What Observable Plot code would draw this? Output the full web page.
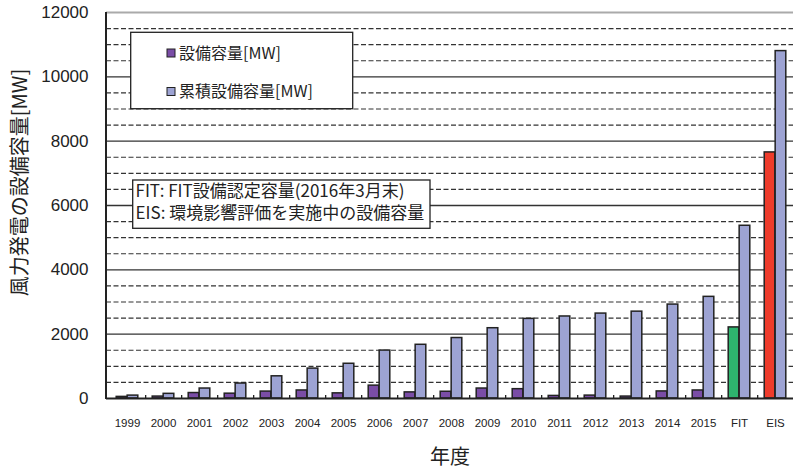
<!DOCTYPE html>
<html>
<head>
<meta charset="utf-8">
<script src="https://cdn.jsdelivr.net/npm/d3@7"></script>
<script src="https://cdn.jsdelivr.net/npm/@observablehq/plot@0.6"></script>
<style>
  html, body { margin: 0; padding: 0; background: #fff; overflow: hidden; }
  #chart svg { display: block; }
</style>
</head>
<body>
<div id="chart"></div>
<script>
// 年度ごとの風力発電設備容量 (MW)
const categories = ["1999","2000","2001","2002","2003","2004","2005","2006","2007","2008",
                    "2009","2010","2011","2012","2013","2014","2015","FIT","EIS"];
const annualCapacity = [50, 60, 170, 150, 215, 250, 160, 400, 190, 210,
                        310, 290, 80, 90, 60, 220, 250, 2210, 7650];
const cumulativeCapacity = [90, 145, 310, 465, 690, 930, 1080, 1490, 1670, 1880,
                            2185, 2475, 2550, 2640, 2700, 2920, 3160, 5370, 10800];
const seriesNames = ["設備容量[MW]", "累積設備容量[MW]"];
const notes = ["FIT: FIT設備認定容量(2016年3月末)", "EIS: 環境影響評価を実施中の設備容量"];
const yTicks = [0, 2000, 4000, 6000, 8000, 10000, 12000];
const yLabel = "風力発電の設備容量[MW]";
const xLabel = "年度";

const rows = categories.map((c, i) => ({cat: c, annual: annualCapacity[i], cumulative: cumulativeCapacity[i]}));

const PURPLE = "#7A4DA6", BLUE = "#9DA3D3", GREEN = "#2EB46E", RED = "#EE3B2B", INK = "#222";
const JP = "'Noto Sans CJK JP', 'Noto Sans', sans-serif";
const annualFill = d => d.cat === "FIT" ? GREEN : d.cat === "EIS" ? RED : PURPLE;

const majors = yTicks.filter(v => v > 0 && v < 12000);
const minors = d3.range(500, 12000, 500).filter(v => v % 2000 !== 0);

const chart = Plot.plot({
  width: 793,
  height: 470,
  marginLeft: 106,
  marginRight: 0,
  marginTop: 12,
  marginBottom: 72,
  style: {fontFamily: "'Liberation Sans', Arial, sans-serif", color: INK, background: "#fff"},
  x: {type: "band", domain: categories, range: [106, 796], padding: 0},
  y: {domain: [0, 12000]},
  marks: [
    Plot.ruleY(minors, {stroke: "#333", strokeWidth: 1.1, strokeDasharray: "5,2.5"}),
    Plot.ruleY(majors, {stroke: "#333", strokeWidth: 1.3}),
    Plot.ruleY([12000], {stroke: "#aaa", strokeWidth: 2}),
    Plot.barY(rows, {x: "cat", y: "annual", fill: annualFill, stroke: INK, strokeWidth: 1.5,
                     insetLeft: 7.2, insetRight: 18.16}),
    Plot.barY(rows, {x: "cat", y: "cumulative", fill: BLUE, stroke: INK, strokeWidth: 1.5,
                     insetLeft: 18.16, insetRight: 7.2}),
    Plot.ruleX(categories.slice(0, -1), {x: d => d, y1: 0, y2: 95, dx: 18.16, stroke: INK, strokeWidth: 1.3}),
    Plot.ruleY([0], {stroke: INK, strokeWidth: 2}),
    Plot.axisY({ticks: yTicks, tickSize: 0, tickPadding: 18, fontSize: 17, tickFormat: d => String(d), label: null}),
    Plot.axisX({tickSize: 0, tickPadding: 20, fontSize: 11.5, label: null}),
    Plot.text([yLabel], {frameAnchor: "left", dx: -86, dy: -23, rotate: -90, fontSize: 20,
                         textAnchor: "middle", lineAnchor: "middle", fontFamily: JP, fill: INK}),
    Plot.text([xLabel], {frameAnchor: "bottom", dy: 59, fontSize: 20,
                         textAnchor: "middle", lineAnchor: "middle", fontFamily: JP, fill: INK})
  ]
});

document.getElementById("chart").appendChild(chart);

// left axis line, legend box and note box drawn over the plot area
const svg = d3.select(chart);
const x0 = chart.scale("x").range[0];
const yr = chart.scale("y").range;
svg.append("line")
  .attr("x1", x0).attr("x2", x0).attr("y1", yr[1]).attr("y2", yr[0] + 1)
  .attr("stroke", INK).attr("stroke-width", 2);

const legend = svg.append("g").attr("font-family", JP).attr("font-size", 16)
  .attr("text-anchor", "start").attr("fill", INK);
legend.append("rect").attr("x", 130.7).attr("y", 32.3).attr("width", 222).attr("height", 76.4)
  .attr("fill", "#fff").attr("stroke", INK).attr("stroke-width", 1.3);
[PURPLE, BLUE].forEach((c, i) => {
  const cy = 53 + i * 38.5;
  legend.append("rect").attr("x", 167).attr("y", cy - 4).attr("width", 8).attr("height", 8)
    .attr("fill", c).attr("stroke", INK).attr("stroke-width", 1);
  legend.append("text").attr("x", 179).attr("y", cy).attr("dy", "0.35em").text(seriesNames[i]);
});

const note = svg.append("g").attr("font-family", JP).attr("font-size", 17)
  .attr("text-anchor", "start").attr("fill", INK);
note.append("rect").attr("x", 132.7).attr("y", 180).attr("width", 297.3).attr("height", 48.3)
  .attr("fill", "#fff").attr("stroke", INK).attr("stroke-width", 1.3);
notes.forEach((t, i) => {
  note.append("text").attr("x", 135.5).attr("y", 191 + i * 22).attr("dy", "0.35em").text(t);
});
</script>
</body>
</html>
